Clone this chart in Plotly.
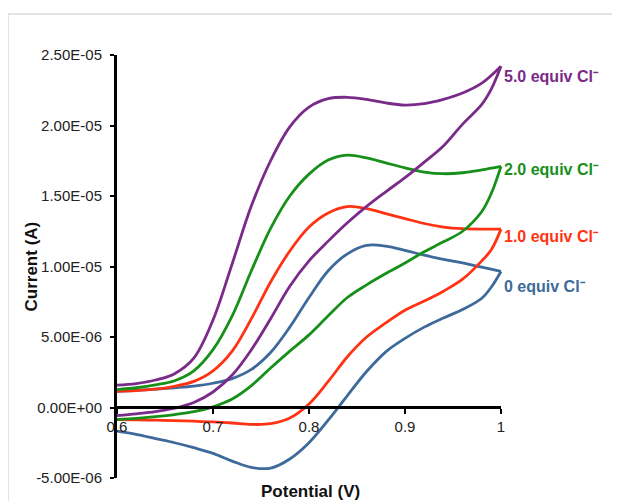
import plotly.graph_objects as go

# ---- data (current in microamps, converted to A below) ----
v_fwd = [0.60, 0.62, 0.64, 0.66, 0.68, 0.70, 0.72, 0.74, 0.76, 0.78, 0.80,
         0.82, 0.84, 0.86, 0.88, 0.90, 0.92, 0.94, 0.96, 0.98, 1.00]
v_rev = [1.00, 0.99, 0.98, 0.96, 0.94, 0.92, 0.90, 0.88, 0.86, 0.84, 0.82,
         0.80, 0.78, 0.76, 0.74, 0.72, 0.70, 0.68, 0.66, 0.64, 0.62, 0.60]

blue_fwd_i = [1.15, 1.22, 1.30, 1.40, 1.52, 1.72, 2.05, 2.70, 3.90, 5.70, 7.80,
              9.70, 10.90, 11.50, 11.45, 11.15, 10.80, 10.50, 10.25, 9.95, 9.65]
blue_rev_i = [9.65, 8.55, 7.75, 6.95, 6.35, 5.70, 4.90, 3.95, 2.55, 0.85, -0.90,
              -2.50, -3.65, -4.30, -4.25, -3.80, -3.25, -2.85, -2.50, -2.20, -1.90, -1.68]

red_fwd_i = [1.15, 1.20, 1.30, 1.50, 1.85, 2.60, 4.00, 6.30, 8.90, 11.10, 12.80,
             13.80, 14.25, 14.10, 13.75, 13.40, 13.05, 12.80, 12.68, 12.65, 12.65]
red_rev_i = [12.65, 11.20, 10.40, 9.10, 8.25, 7.55, 6.90, 6.00, 5.00, 3.60, 1.85,
             0.25, -0.75, -1.15, -1.20, -1.10, -1.02, -0.97, -0.93, -0.90, -0.87, -0.85]

green_fwd_i = [1.27, 1.40, 1.60, 1.90, 2.60, 4.10, 6.50, 9.70, 12.70, 15.00, 16.55,
               17.55, 17.90, 17.70, 17.35, 17.00, 16.70, 16.58, 16.65, 16.85, 17.10]
green_rev_i = [17.10, 15.20, 13.90, 12.50, 11.75, 11.05, 10.25, 9.50, 8.70, 7.80, 6.50,
               5.15, 4.00, 2.80, 1.55, 0.60, 0.05, -0.30, -0.50, -0.65, -0.77, -0.85]

purple_fwd_i = [1.58, 1.70, 1.95, 2.40, 3.50, 6.20, 10.20, 14.30, 17.50, 19.90, 21.30,
                21.90, 22.00, 21.85, 21.60, 21.45, 21.55, 21.85, 22.30, 23.00, 24.20]
purple_rev_i = [24.20, 22.60, 21.50, 20.10, 18.55, 17.40, 16.30, 15.30, 14.26, 13.10, 11.80,
                10.40, 8.60, 6.30, 4.10, 2.30, 1.10, 0.35, -0.05, -0.30, -0.45, -0.57]

series_names = ["0 equiv Cl⁻", "1.0 equiv Cl⁻", "2.0 equiv Cl⁻", "5.0 equiv Cl⁻"]
series_label_y = [8.6, 12.15, 16.86, 23.5]
series_colors = ["#3D6A9A", "#FF3314", "#17901A", "#7A2A88"]

x_tick_vals = [0.6, 0.7, 0.8, 0.9, 1.0]
x_tick_text = ["0.6", "0.7", "0.8", "0.9", "1"]
y_tick_vals = [-5e-6, 0, 5e-6, 1e-5, 1.5e-5, 2e-5, 2.5e-5]
y_tick_text = ["-5.00E-06", "0.00E+00", "5.00E-06", "1.00E-05", "1.50E-05", "2.00E-05", "2.50E-05"]

loops = [
    (blue_fwd_i, blue_rev_i),
    (red_fwd_i, red_rev_i),
    (green_fwd_i, green_rev_i),
    (purple_fwd_i, purple_rev_i),
]

FONT = "Liberation Sans, Arial, sans-serif"

fig = go.Figure()
for (fi, ri), name, col in zip(loops, series_names, series_colors):
    for vv, ii in ((v_fwd, fi), (v_rev, ri)):
        fig.add_trace(go.Scatter(
            x=vv, y=[v * 1e-6 for v in ii], mode="lines", name=name,
            line=dict(color=col, width=2.8, shape="spline", smoothing=1.0),
            showlegend=False, hoverinfo="skip"))

annotations = []
for name, ly, col in zip(series_names, series_label_y, series_colors):
    annotations.append(dict(
        x=1.0, y=ly * 1e-6, xref="x", yref="y", text=f"<b>{name}</b>",
        showarrow=False, xanchor="left", yanchor="middle", xshift=1,
        font=dict(family=FONT, size=16, color=col)))

annotations.append(dict(
    x=-0.218, y=0.5, xref="paper", yref="paper", text="<b>Current (A)</b>",
    textangle=-90, showarrow=False, xanchor="center", yanchor="middle",
    font=dict(family=FONT, size=17, color="#111")))
annotations.append(dict(
    x=0.495, y=-0.033, xref="paper", yref="paper", text="<b>Potential (V)</b>",
    showarrow=False, xanchor="center", yanchor="middle",
    font=dict(family=FONT, size=17, color="#111")))

shapes = [
    dict(type="rect", xref="paper", yref="paper", x0=-0.2795, y0=-1.0, x1=2.0, y1=1.0969,
         line=dict(color="#dcdcdc", width=1.5), fillcolor="rgba(0,0,0,0)", layer="below"),
    dict(type="line", xref="x", yref="y", x0=0.6, y0=0, x1=1.0, y1=0,
         line=dict(color="black", width=3), layer="above"),
]

fig.update_layout(
    width=612, height=493,
    margin=dict(l=109, r=113, t=47, b=23),
    paper_bgcolor="white", plot_bgcolor="white",
    showlegend=False,
    annotations=annotations, shapes=shapes,
    xaxis=dict(range=[0.6, 1.00625], anchor="free", position=1/6,
               showline=False, showgrid=False, zeroline=False,
               tickmode="array", tickvals=x_tick_vals, ticktext=x_tick_text,
               ticks="outside", ticklen=5, tickwidth=2, tickcolor="black",
               tickfont=dict(family=FONT, size=15, color="#222")),
    yaxis=dict(range=[-5e-6, 2.5e-5], showline=True, linecolor="black", linewidth=3,
               showgrid=False, zeroline=False,
               tickmode="array", tickvals=y_tick_vals, ticktext=y_tick_text,
               ticks="outside", ticklen=4, tickwidth=2, tickcolor="black",
               ticklabelstandoff=5,
               tickfont=dict(family=FONT, size=15, color="#222")),
)

fig.write_html("out.html")
